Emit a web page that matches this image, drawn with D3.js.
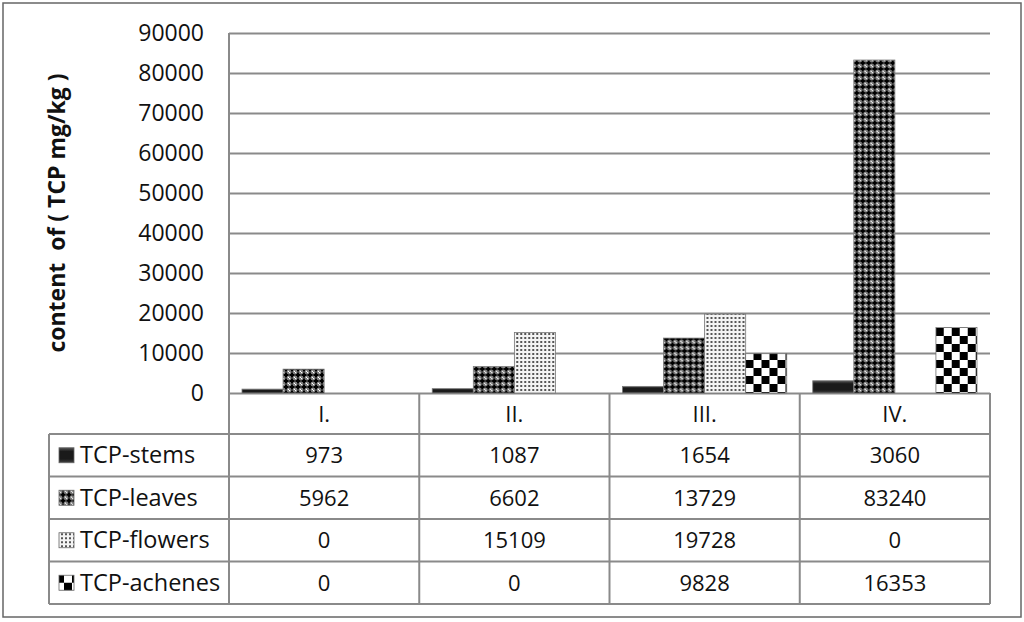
<!DOCTYPE html>
<html lang="en">
<head>
<meta charset="utf-8">
<title>TCP content</title>
<style>
  html, body { margin: 0; padding: 0; background: #fff; }
  svg text { font-family: "Open Sans", "Noto Sans", sans-serif; fill: #111; }
</style>
</head>
<body>
<script src="https://cdn.jsdelivr.net/npm/d3@7"></script>
<script>

var categories = ["I.", "II.", "III.", "IV."];
var seriesNames = ["TCP-stems", "TCP-leaves", "TCP-flowers", "TCP-achenes"];
var stems = [973, 1087, 1654, 3060];
var leaves = [5962, 6602, 13729, 83240];
var flowers = [0, 15109, 19728, 0];
var achenes = [0, 0, 9828, 16353];
var yTicks = [0, 10000, 20000, 30000, 40000, 50000, 60000, 70000, 80000, 90000];

var values = [stems, leaves, flowers, achenes];
var fills = ["url(#p-stems)", "url(#p-leaves)", "url(#p-flowers)", "url(#p-achenes)"];

var W = 1024, H = 622,
    plotLeft = 229, plotRight = 990, plotTop = 33, base = 393,
    tableLeft = 49, headBottom = 434, rowH = 42.5,
    grey = "#8a8a8a";

var svg = d3.select("body").append("svg")
    .attr("width", W)
    .attr("height", H);

var defs = svg.append("defs");

// stems: dark bar with a soft bevel
var g1 = defs.append("linearGradient").attr("id", "p-stems").attr("x1", 0).attr("y1", 0).attr("x2", 0).attr("y2", 1);
g1.append("stop").attr("offset", "0%").attr("stop-color", "#555");
g1.append("stop").attr("offset", "25%").attr("stop-color", "#1a1a1a");
g1.append("stop").attr("offset", "75%").attr("stop-color", "#1a1a1a");
g1.append("stop").attr("offset", "100%").attr("stop-color", "#444");

// leaves: black crosses on grey with white dots
var p2 = defs.append("pattern").attr("id", "p-leaves")
    .attr("patternUnits", "userSpaceOnUse").attr("width", 6).attr("height", 6);
p2.append("rect").attr("width", 6).attr("height", 6).attr("fill", "#7a7a7a");
p2.append("rect").attr("x", 2).attr("y", 0.5).attr("width", 2).attr("height", 5).attr("fill", "#000");
p2.append("rect").attr("x", 0.5).attr("y", 2).attr("width", 5).attr("height", 2).attr("fill", "#000");
p2.append("rect").attr("x", 0).attr("y", 0).attr("width", 1.2).attr("height", 1.2).attr("fill", "#fff");
p2.append("rect").attr("x", 4.8).attr("y", 4.8).attr("width", 1.2).attr("height", 1.2).attr("fill", "#fff");

// flowers: small dark dots on white
var p3 = defs.append("pattern").attr("id", "p-flowers")
    .attr("patternUnits", "userSpaceOnUse").attr("width", 4).attr("height", 4);
p3.append("rect").attr("width", 4).attr("height", 4).attr("fill", "#f4f4f4");
p3.append("rect").attr("x", 1).attr("y", 1).attr("width", 2).attr("height", 2).attr("fill", "#555");

// achenes: checkerboard
var p4 = defs.append("pattern").attr("id", "p-achenes")
    .attr("patternUnits", "userSpaceOnUse").attr("width", 16).attr("height", 16);
p4.append("rect").attr("width", 16).attr("height", 16).attr("fill", "#fff");
p4.append("rect").attr("width", 8).attr("height", 8).attr("fill", "#000");
p4.append("rect").attr("x", 8).attr("y", 8).attr("width", 8).attr("height", 8).attr("fill", "#000");

// outer frame
svg.append("rect")
    .attr("x", 3).attr("y", 3).attr("width", 1018).attr("height", 614)
    .attr("fill", "#fff").attr("stroke", "#666").attr("stroke-width", 1.5);

var x0 = d3.scaleBand().domain(categories).range([plotLeft, plotRight]);
var x1 = d3.scaleBand().domain(seriesNames).range([13, x0.bandwidth() - 13]);
var y = d3.scaleLinear().domain([0, 90000]).range([base, plotTop]);

// grid + tick labels
var yAxis = d3.axisLeft(y)
    .tickValues(yTicks)
    .tickSize(-(plotRight - plotLeft))
    .tickPadding(24)
    .tickFormat(d3.format("d"));

var ga = svg.append("g")
    .attr("transform", "translate(" + plotLeft + ",0)")
    .call(yAxis);
ga.select(".domain").remove();
ga.selectAll(".tick line").attr("stroke", grey).attr("stroke-width", 2);
ga.selectAll(".tick text")
    .attr("x", -25)
    .style("font-family", "'Open Sans', sans-serif")
    .style("font-size", "23px")
    .attr("fill", "#111");

// y label
svg.append("text")
    .attr("transform", "translate(65,213) rotate(-90)")
    .attr("text-anchor", "middle")
    .style("font-size", "23px")
    .style("font-weight", "bold")
    .style("white-space", "pre")
    .text("content  of ( TCP mg/kg )");

// bars
var groups = svg.append("g").selectAll("g")
    .data(categories)
    .join("g")
    .attr("transform", function(d) { return "translate(" + x0(d) + ",0)"; });

groups.selectAll("rect")
    .data(function(c, ci) {
      return seriesNames.map(function(s, si) { return {s: s, si: si, v: values[si][ci]}; })
        .filter(function(d) { return d.v > 0; });
    })
    .join("rect")
    .attr("x", function(d) { return x1(d.s); })
    .attr("y", function(d) { return y(d.v); })
    .attr("width", x1.bandwidth())
    .attr("height", function(d) { return base - y(d.v); })
    .attr("fill", function(d) { return fills[d.si]; })
    .attr("stroke", "#777")
    .attr("stroke-width", 0.8);

// data table
var table = svg.append("g").attr("stroke", grey).attr("stroke-width", 2).attr("fill", "none");
var tableBottom = headBottom + rowH * seriesNames.length;

table.append("line").attr("x1", plotLeft).attr("x2", plotLeft).attr("y1", plotTop).attr("y2", tableBottom);
table.append("line").attr("x1", tableLeft).attr("x2", tableLeft).attr("y1", headBottom).attr("y2", tableBottom);
categories.forEach(function(c) {
  var xr = x0(c) + x0.bandwidth();
  table.append("line").attr("x1", xr).attr("x2", xr).attr("y1", base).attr("y2", tableBottom);
});
d3.range(seriesNames.length + 1).forEach(function(i) {
  var yy = headBottom + i * rowH;
  table.append("line").attr("x1", tableLeft).attr("x2", plotRight).attr("y1", yy).attr("y2", yy);
});

// category headers
svg.append("g").selectAll("text")
    .data(categories)
    .join("text")
    .attr("x", function(d) { return x0(d) + x0.bandwidth() / 2; })
    .attr("y", (base + headBottom) / 2 + 8)
    .attr("text-anchor", "middle")
    .style("font-size", "22px")
    .text(function(d) { return d; });

// rows
var rows = svg.append("g").selectAll("g")
    .data(seriesNames)
    .join("g")
    .attr("transform", function(d, i) { return "translate(0," + (headBottom + i * rowH + rowH / 2) + ")"; });

rows.append("rect")
    .attr("x", 59).attr("y", -7.5).attr("width", 15).attr("height", 15)
    .attr("fill", function(d, i) { return fills[i]; })
    .attr("stroke", "#666").attr("stroke-width", 0.8);

rows.append("text")
    .attr("x", 80).attr("y", 8)
    .style("font-size", "23.5px")
    .text(function(d) { return d; });

rows.selectAll("text.v")
    .data(function(d, i) { return values[i]; })
    .join("text")
    .attr("class", "v")
    .attr("x", function(d, i) { return x0(categories[i]) + x0.bandwidth() / 2; })
    .attr("y", 8)
    .attr("text-anchor", "middle")
    .style("font-size", "22px")
    .text(function(d) { return d; });

</script>
</body>
</html>
